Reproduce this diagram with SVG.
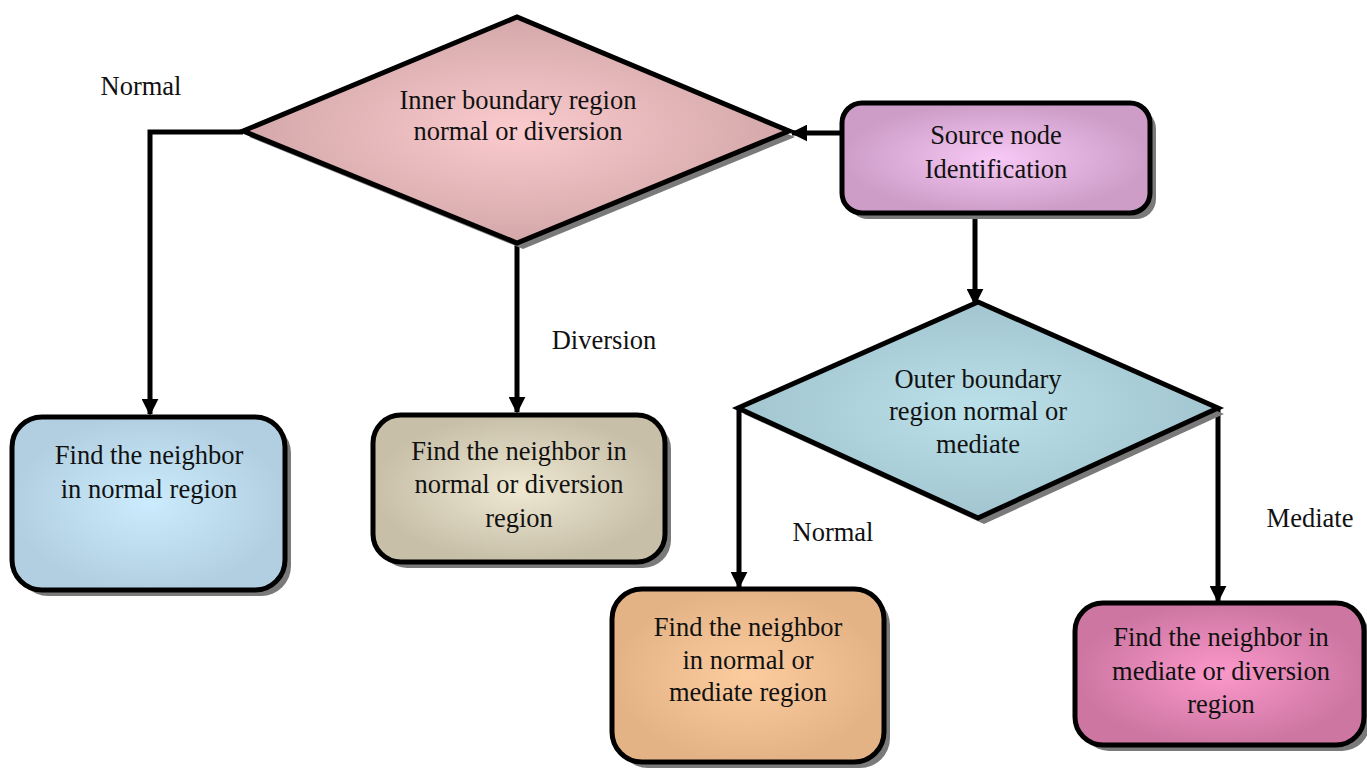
<svg xmlns="http://www.w3.org/2000/svg" width="1367" height="768" viewBox="0 0 1367 768">
<style>
.shape{stroke:#000;stroke-width:5;stroke-linejoin:miter}
.shadow{fill:#7a7a7a}
.t{font-family:"Liberation Serif","Times New Roman",serif;font-size:26.5px;fill:#111;text-anchor:middle}
.lbl{font-family:"Liberation Serif","Times New Roman",serif;font-size:26.5px;fill:#111;text-anchor:middle}
.conn{fill:none;stroke:#000;stroke-width:5}
</style>
<defs>
<marker id="arr" viewBox="0 0 10 10" refX="9" refY="5" markerWidth="3.4" markerHeight="3.4" orient="auto" markerUnits="strokeWidth">
<path d="M0,0 L10,5 L0,10 z" fill="#000"/>
</marker>
<radialGradient id="gInner"><stop offset="0" stop-color="#fbcbce"/><stop offset="1" stop-color="#d3a7a9"/></radialGradient>
<radialGradient id="gSrc"><stop offset="0" stop-color="#f8c8f6"/><stop offset="1" stop-color="#cd9dc8"/></radialGradient>
<radialGradient id="gOuter"><stop offset="0" stop-color="#bbe1eb"/><stop offset="1" stop-color="#a2c5cf"/></radialGradient>
<radialGradient id="gLeft"><stop offset="0" stop-color="#cbecfe"/><stop offset="1" stop-color="#b2cfe1"/></radialGradient>
<radialGradient id="gMid"><stop offset="0" stop-color="#efe8d2"/><stop offset="1" stop-color="#c7bfa8"/></radialGradient>
<radialGradient id="gOrange"><stop offset="0" stop-color="#fdcc9e"/><stop offset="1" stop-color="#e3b386"/></radialGradient>
<radialGradient id="gPink"><stop offset="0" stop-color="#fb98ca"/><stop offset="1" stop-color="#cd76a2"/></radialGradient>
</defs>
<rect width="1367" height="768" fill="#fff"/>

<g id="connectors">
<polyline class="conn" points="243,132 150,132 150,414" marker-end="url(#arr)"/>
<line class="conn" x1="517" y1="243" x2="517" y2="412" marker-end="url(#arr)"/>
<line class="conn" x1="842" y1="133" x2="792" y2="133" marker-end="url(#arr)"/>
<line class="conn" x1="975" y1="213" x2="975" y2="304" marker-end="url(#arr)"/>
<line class="conn" x1="739" y1="408" x2="739" y2="587" marker-end="url(#arr)"/>
<line class="conn" x1="1218" y1="408" x2="1218" y2="601" marker-end="url(#arr)"/>
</g>

<g id="inner-decision">
<polygon class="shadow" points="249,137 523,23 795,137 523,249"/>
<polygon class="shape" fill="url(#gInner)" points="243,131 517,17 789,131 517,243"/>
<text class="t" x="518" y="109">Inner boundary region</text>
<text class="t" x="518" y="140">normal or diversion</text>
</g>

<g id="source">
<rect class="shadow" x="848" y="109" width="308" height="110" rx="20"/>
<rect class="shape" fill="url(#gSrc)" x="842" y="103" width="308" height="110" rx="20"/>
<text class="t" x="996" y="144">Source node</text>
<text class="t" x="996" y="178">Identification</text>
</g>

<g id="outer-decision">
<polygon class="shadow" points="744,414 978,308 1224,414 984,524"/>
<polygon class="shape" fill="url(#gOuter)" points="738,408 978,302 1218,408 978,518"/>
<text class="t" x="978" y="388">Outer boundary</text>
<text class="t" x="978" y="420">region normal or</text>
<text class="t" x="978" y="453">mediate</text>
</g>

<g id="find-normal">
<rect class="shadow" x="18" y="423" width="273" height="173" rx="30"/>
<rect class="shape" fill="url(#gLeft)" x="12" y="417" width="273" height="173" rx="30"/>
<text class="t" x="149" y="464">Find the neighbor</text>
<text class="t" x="149" y="498">in normal region</text>
</g>

<g id="find-normal-diversion">
<rect class="shadow" x="379" y="421" width="292" height="147" rx="28"/>
<rect class="shape" fill="url(#gMid)" x="373" y="415" width="292" height="147" rx="28"/>
<text class="t" x="519" y="460">Find the neighbor in</text>
<text class="t" x="519" y="493">normal or diversion</text>
<text class="t" x="519" y="527">region</text>
</g>

<g id="find-normal-mediate">
<rect class="shadow" x="618" y="595" width="272" height="173" rx="30"/>
<rect class="shape" fill="url(#gOrange)" x="612" y="589" width="272" height="173" rx="30"/>
<text class="t" x="748" y="636">Find the neighbor</text>
<text class="t" x="748" y="669">in normal or</text>
<text class="t" x="748" y="701">mediate region</text>
</g>

<g id="find-mediate-diversion">
<rect class="shadow" x="1081" y="609" width="289" height="142" rx="28"/>
<rect class="shape" fill="url(#gPink)" x="1075" y="603" width="289" height="142" rx="28"/>
<text class="t" x="1221" y="646">Find the neighbor in</text>
<text class="t" x="1221" y="680">mediate or diversion</text>
<text class="t" x="1221" y="713">region</text>
</g>

<g id="labels">
<text class="lbl" x="141" y="95">Normal</text>
<text class="lbl" x="604" y="349">Diversion</text>
<text class="lbl" x="833" y="541">Normal</text>
<text class="lbl" x="1310" y="527">Mediate</text>
</g>
</svg>
